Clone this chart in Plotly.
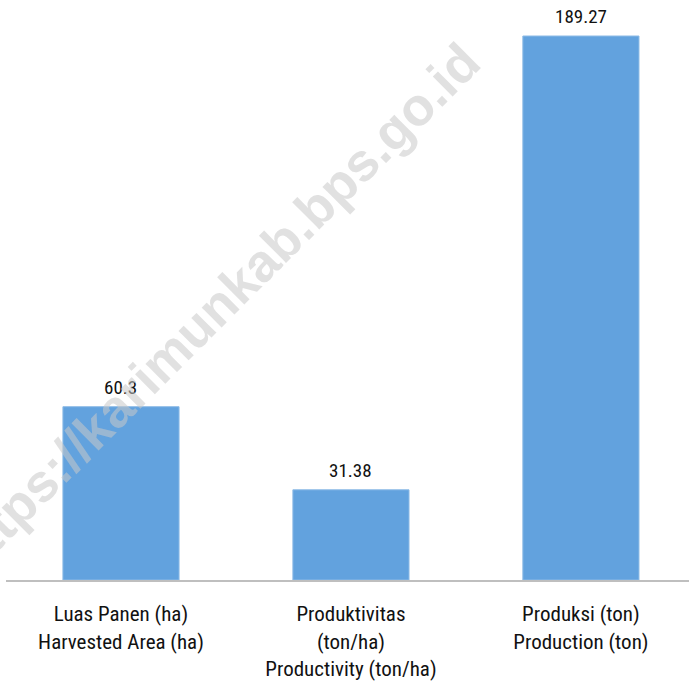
import plotly.graph_objects as go

# datos
kategori = [
    "Luas Panen (ha)<br>Harvested Area (ha)",
    "Produktivitas<br>(ton/ha)<br>Productivity (ton/ha)",
    "Produksi (ton)<br>Production (ton)",
]
nilai = [60.3, 31.38, 189.27]
label_nilai = ["60.3", "31.38", "189.27"]

FONT = "Roboto Condensed, Roboto, sans-serif"

fig = go.Figure()

fig.add_trace(go.Bar(
    x=kategori,
    y=nilai,
    width=0.505,
    marker=dict(color="#62a2de", line=dict(color="#8dbbe6", width=1)),
    hoverinfo="skip",
))

# etiquetas de valor sobre cada barra
for cat, v, lab in zip(kategori, nilai, label_nilai):
    fig.add_annotation(
        x=cat, y=v, text=lab,
        xanchor="center", yanchor="bottom", yshift=6,
        showarrow=False,
        font=dict(family=FONT, size=19, color="#111111"),
    )

# watermark
fig.add_annotation(
    text="https://karimunkab.bps.go.id",
    xref="paper", yref="paper",
    x=0.305, y=0.468,
    xanchor="center", yanchor="middle",
    textangle=-45,
    showarrow=False,
    font=dict(family="Arimo, Liberation Sans, Arial, sans-serif", size=53,
              weight=900, color="rgba(200,200,200,0.55)"),
)

fig.update_layout(
    width=689,
    height=689,
    margin=dict(l=6, r=0, t=0, b=109),
    plot_bgcolor="white",
    paper_bgcolor="white",
    showlegend=False,
    xaxis=dict(
        range=[-0.5, 2.47],
        showline=True,
        linecolor="#bfbfbf",
        linewidth=2,
        showgrid=False,
        ticks="",
        ticklabelstandoff=14,
        tickfont=dict(family=FONT, size=21, color="#111111"),
    ),
    yaxis=dict(
        range=[0, 201.8],
        visible=False,
        showgrid=False,
        zeroline=False,
    ),
)

# sin margen del body para que el grafico llene la ventana
fig.write_html(
    "out.html",
    config={"displayModeBar": False},
    post_script="document.body.style.margin='0';",
)
